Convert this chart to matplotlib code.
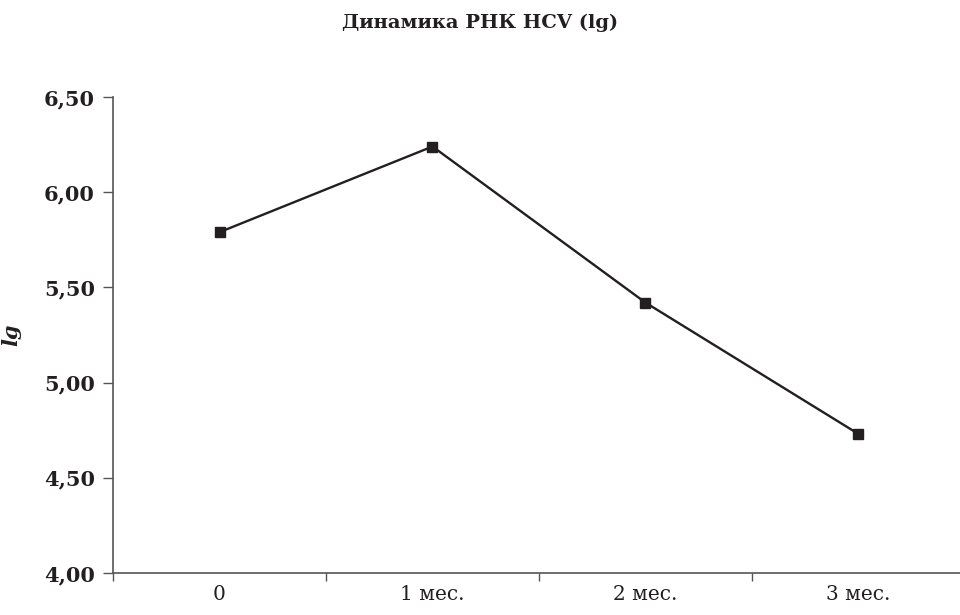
import numpy as np
import matplotlib.pyplot as plt
from matplotlib.ticker import FuncFormatter

categories = ["0", "1 мес.", "2 мес.", "3 мес."]
rna_lg = [5.79, 6.24, 5.42, 4.73]
y_ticks = [4.0, 4.5, 5.0, 5.5, 6.0, 6.5]

fig = plt.figure(figsize=(9.6, 6.15), dpi=100)
ax = fig.add_axes([113 / 960, 42 / 615, 852 / 960, 476 / 615])

x = np.arange(len(categories)) + 0.5
ax.plot(x, rna_lg, color="#231f20", lw=1.7, marker="s", ms=7.5, mec="#231f20", mfc="#231f20", clip_on=False)

ax.set_xlim(0, len(categories))
ax.set_ylim(4.0, 6.5)
ax.set_xticks(np.arange(len(categories) + 1))
ax.set_xticklabels([])
ax.set_xticks(x, minor=True)
ax.set_xticklabels(categories, minor=True, fontfamily="DejaVu Serif", fontsize=14.5, color="#231f20")
ax.tick_params(axis="x", which="minor", length=0, pad=9)
ax.tick_params(axis="x", which="major", length=6, width=1, color="#555555")
ax.set_yticks(y_ticks)
ax.yaxis.set_major_formatter(FuncFormatter(lambda v, p: f"{v:.2f}".replace(".", ",")))
ax.tick_params(axis="y", length=7, width=1, color="#555555", pad=6)
for lab in ax.get_yticklabels():
    lab.set_fontfamily("DejaVu Serif")
    lab.set_fontweight("bold")
    lab.set_fontsize(15)
    lab.set_color("#231f20")

for s in ["top", "right"]:
    ax.spines[s].set_visible(False)
for s in ["left", "bottom"]:
    ax.spines[s].set_color("#555555")
    ax.spines[s].set_linewidth(1.2)

ax.set_ylabel("lg", fontfamily="DejaVu Serif", fontstyle="italic", fontweight="bold",
              fontsize=15, color="#231f20", labelpad=16)
fig.text(0.5, 0.963, "Динамика РНК HCV (lg)", ha="center", va="center",
         fontfamily="DejaVu Serif", fontweight="bold", fontsize=14, color="#231f20")

fig.savefig("out.png", dpi=100)
